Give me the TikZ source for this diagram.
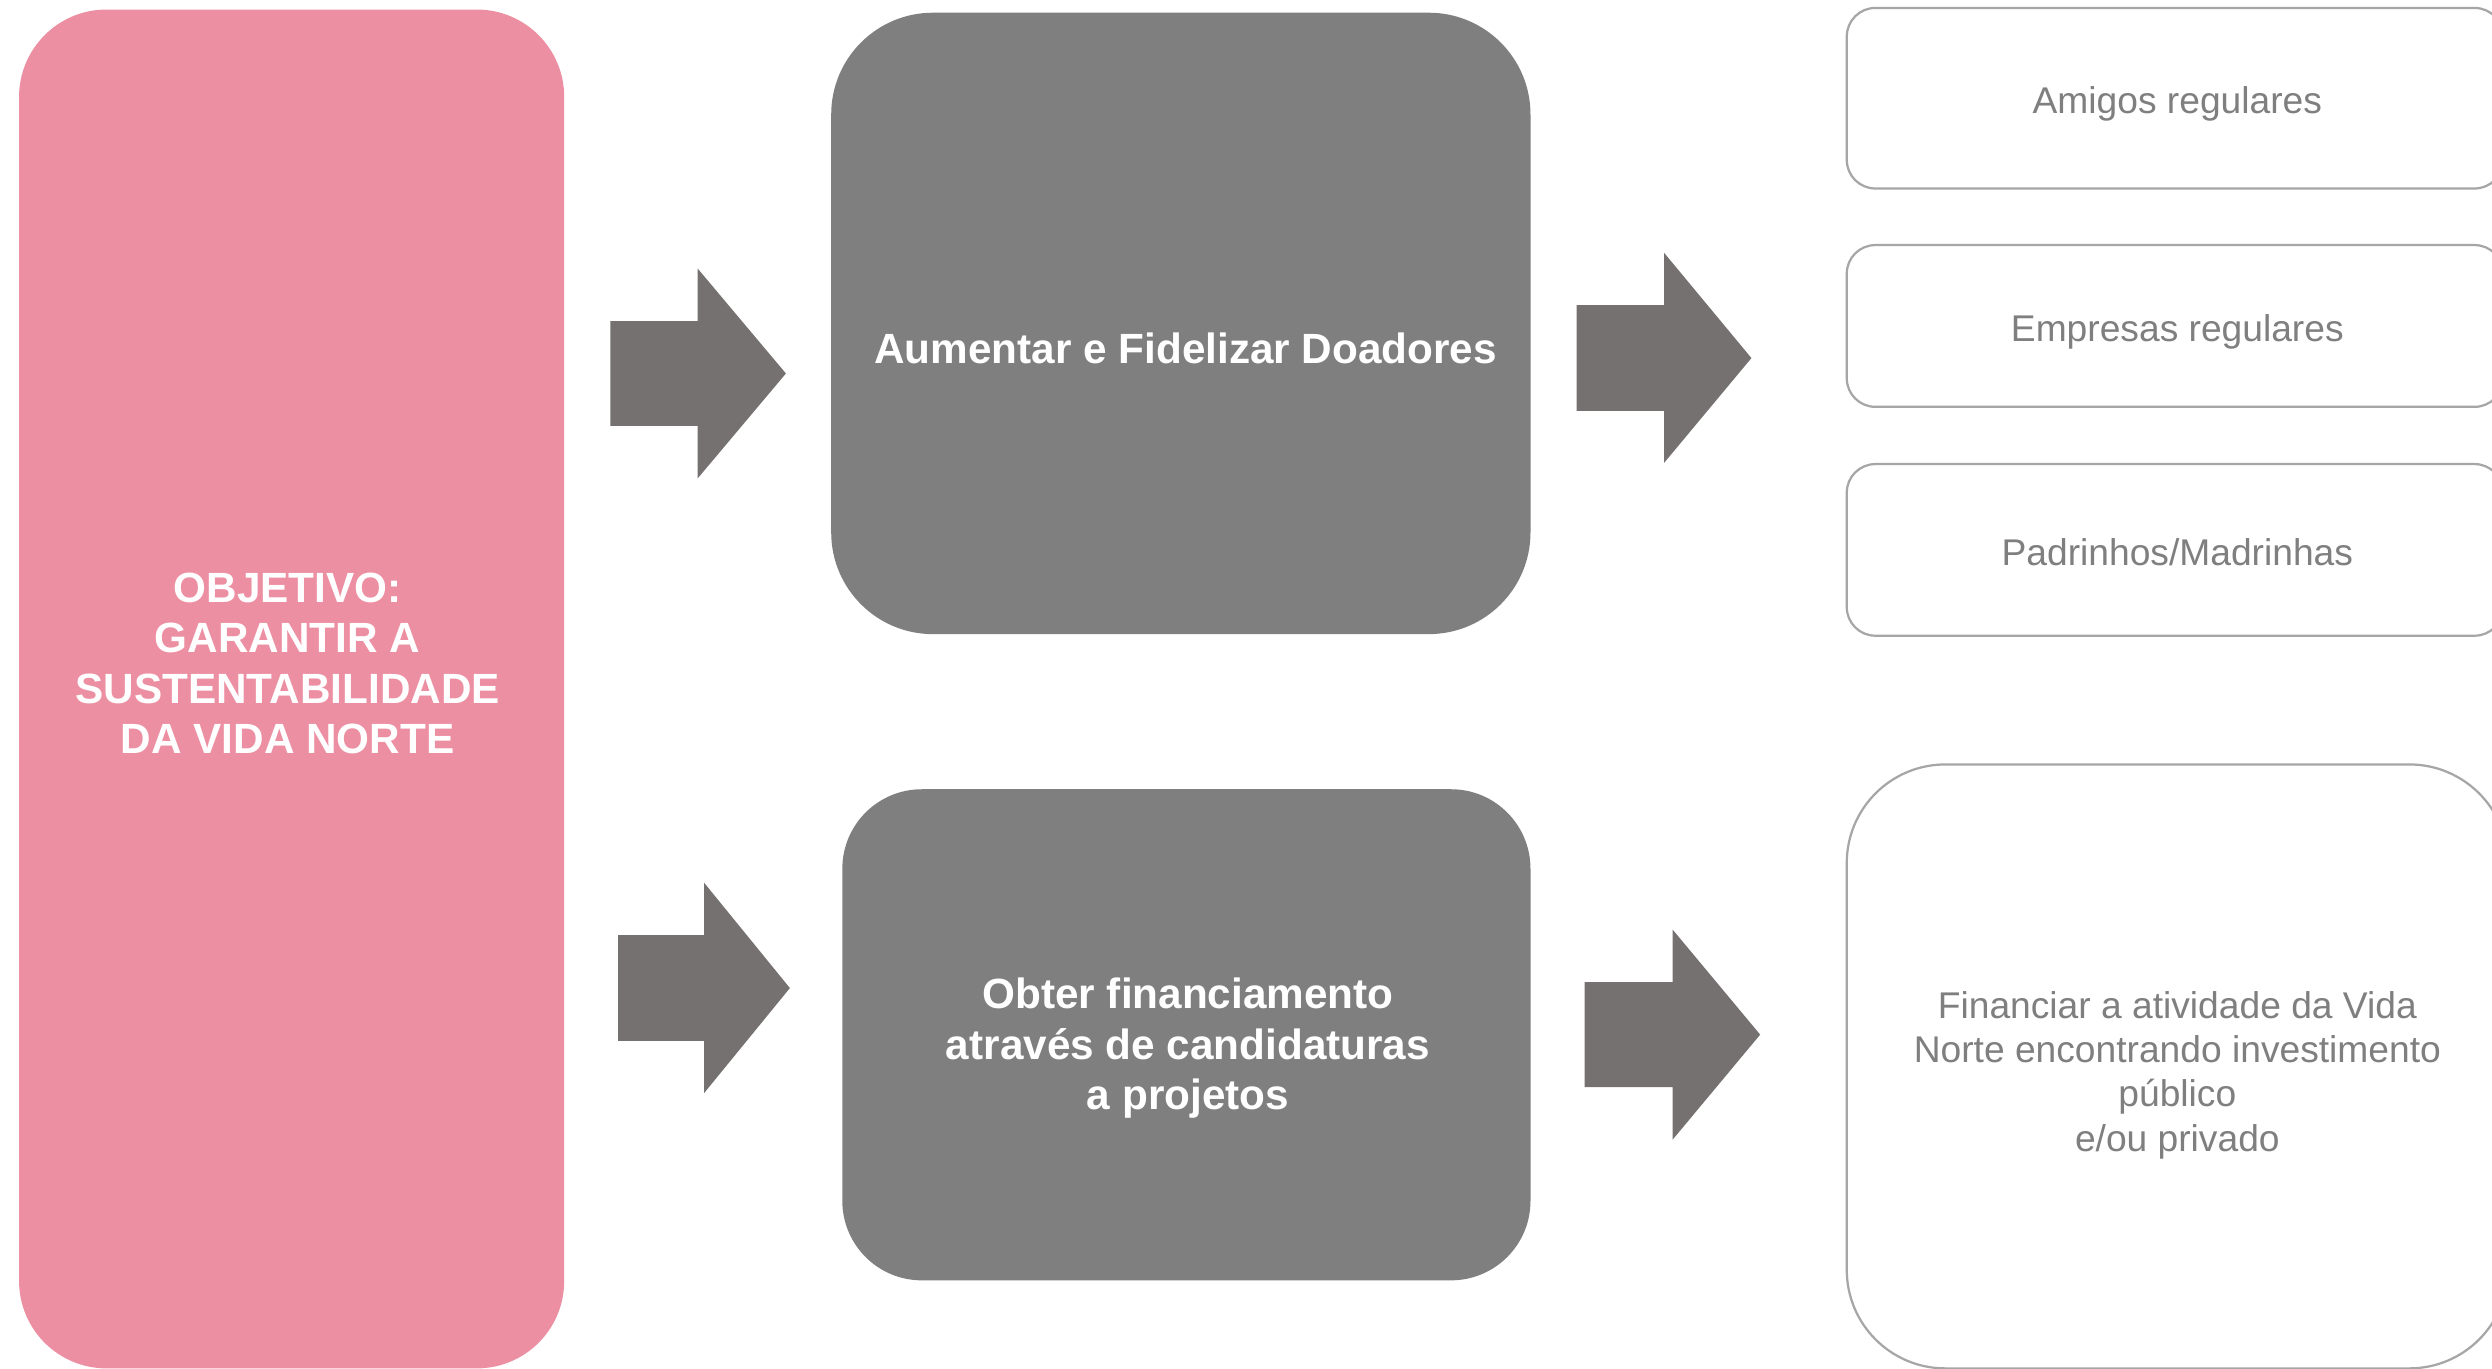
\documentclass[tikz,border=0pt]{standalone}
\usepackage{fontspec}
\setmainfont{Liberation Sans}
\definecolor{pinkfill}{HTML}{ED8FA2}
\definecolor{boxgray}{HTML}{7F7F7F}
\definecolor{arrowgray}{HTML}{767171}
\definecolor{outlinegray}{HTML}{A6A6A6}
\definecolor{textgray}{HTML}{7F7F7F}
\begin{document}
\begin{tikzpicture}[x=0.5pt,y=-0.5pt,
  every node/.style={inner sep=0pt,outer sep=0pt},
  objbox/.style={fill=pinkfill,rounded corners=27.5pt},
  graybox/.style={fill=boxgray},
  outbox/.style={draw=outlinegray,line width=0.7pt,fill=white},
  blockarrow/.style={fill=arrowgray},
  boldtext/.style={text=white,align=center,font=\fontsize{13.3pt}{15.85pt}\selectfont\bfseries},
  greytext/.style={text=textgray,align=center,font=\fontsize{11.7pt}{13.95pt}\selectfont}
]
\fill[white] (0,0) rectangle (1568,861);
\useasboundingbox (0,0) rectangle (1568,861);
\clip (0,0) rectangle (1568,861);

% left objective box
\node[objbox,minimum width=171.5pt,minimum height=427.5pt] (obj) at (183.5,433.5) {};
\node[boldtext] (objtxt) at (181,417.5) {OBJETIVO:\\GARANTIR A\\SUSTENTABILIDADE\\DA VIDA NORTE};

% middle boxes
\node[graybox,rounded corners=32pt,minimum width=220pt,minimum height=195.5pt] (don) at (743,203.5) {};
\node[boldtext,anchor=base] (dontxt) at (746,229) {Aumentar e Fidelizar Doadores};

\node[graybox,rounded corners=25pt,minimum width=216.5pt,minimum height=154.5pt] (fin) at (746.5,651.1) {};
\node[boldtext] (fintxt) at (747.5,659.5) {Obter financiamento\\através de candidaturas\\a projetos};

% right boxes
\node[outbox,rounded corners=9pt,minimum width=206.5pt,minimum height=56.8pt] (amigos) at (1368.5,61.8) {};
\node[greytext,anchor=base] at (1370,71.6) {Amigos regulares};
\node[outbox,rounded corners=9pt,minimum width=206.5pt,minimum height=50.9pt] (empresas) at (1368.5,205.1) {};
\node[greytext,anchor=base] at (1370,215) {Empresas regulares};
\node[outbox,rounded corners=9pt,minimum width=206.5pt,minimum height=54pt] (padrinhos) at (1368.5,346) {};
\node[greytext,anchor=base] at (1370,356) {Padrinhos/Madrinhas};
\node[outbox,rounded corners=31pt,minimum width=208pt,minimum height=190pt] (financiar) at (1370,671) {};
\node[greytext] (fintext) at (1370,676.5) {Financiar a atividade da Vida\\Norte encontrando investimento\\público\\e/ou privado};

% block arrows
\fill[blockarrow] (384,202) -- (439,202) -- (439,169) -- (494.5,235) -- (439,301) -- (439,268) -- (384,268) -- cycle;
\fill[blockarrow] (992,192) -- (1047,192) -- (1047,159) -- (1102,225.3) -- (1047,291.3) -- (1047,258.5) -- (992,258.5) -- cycle;
\fill[blockarrow] (389,588.4) -- (443,588.4) -- (443,555.4) -- (497,621.7) -- (443,687.8) -- (443,655) -- (389,655) -- cycle;
\fill[blockarrow] (997,618) -- (1052.5,618) -- (1052.5,585) -- (1107.5,651) -- (1052.5,717) -- (1052.5,684) -- (997,684) -- cycle;
\end{tikzpicture}
\end{document}
